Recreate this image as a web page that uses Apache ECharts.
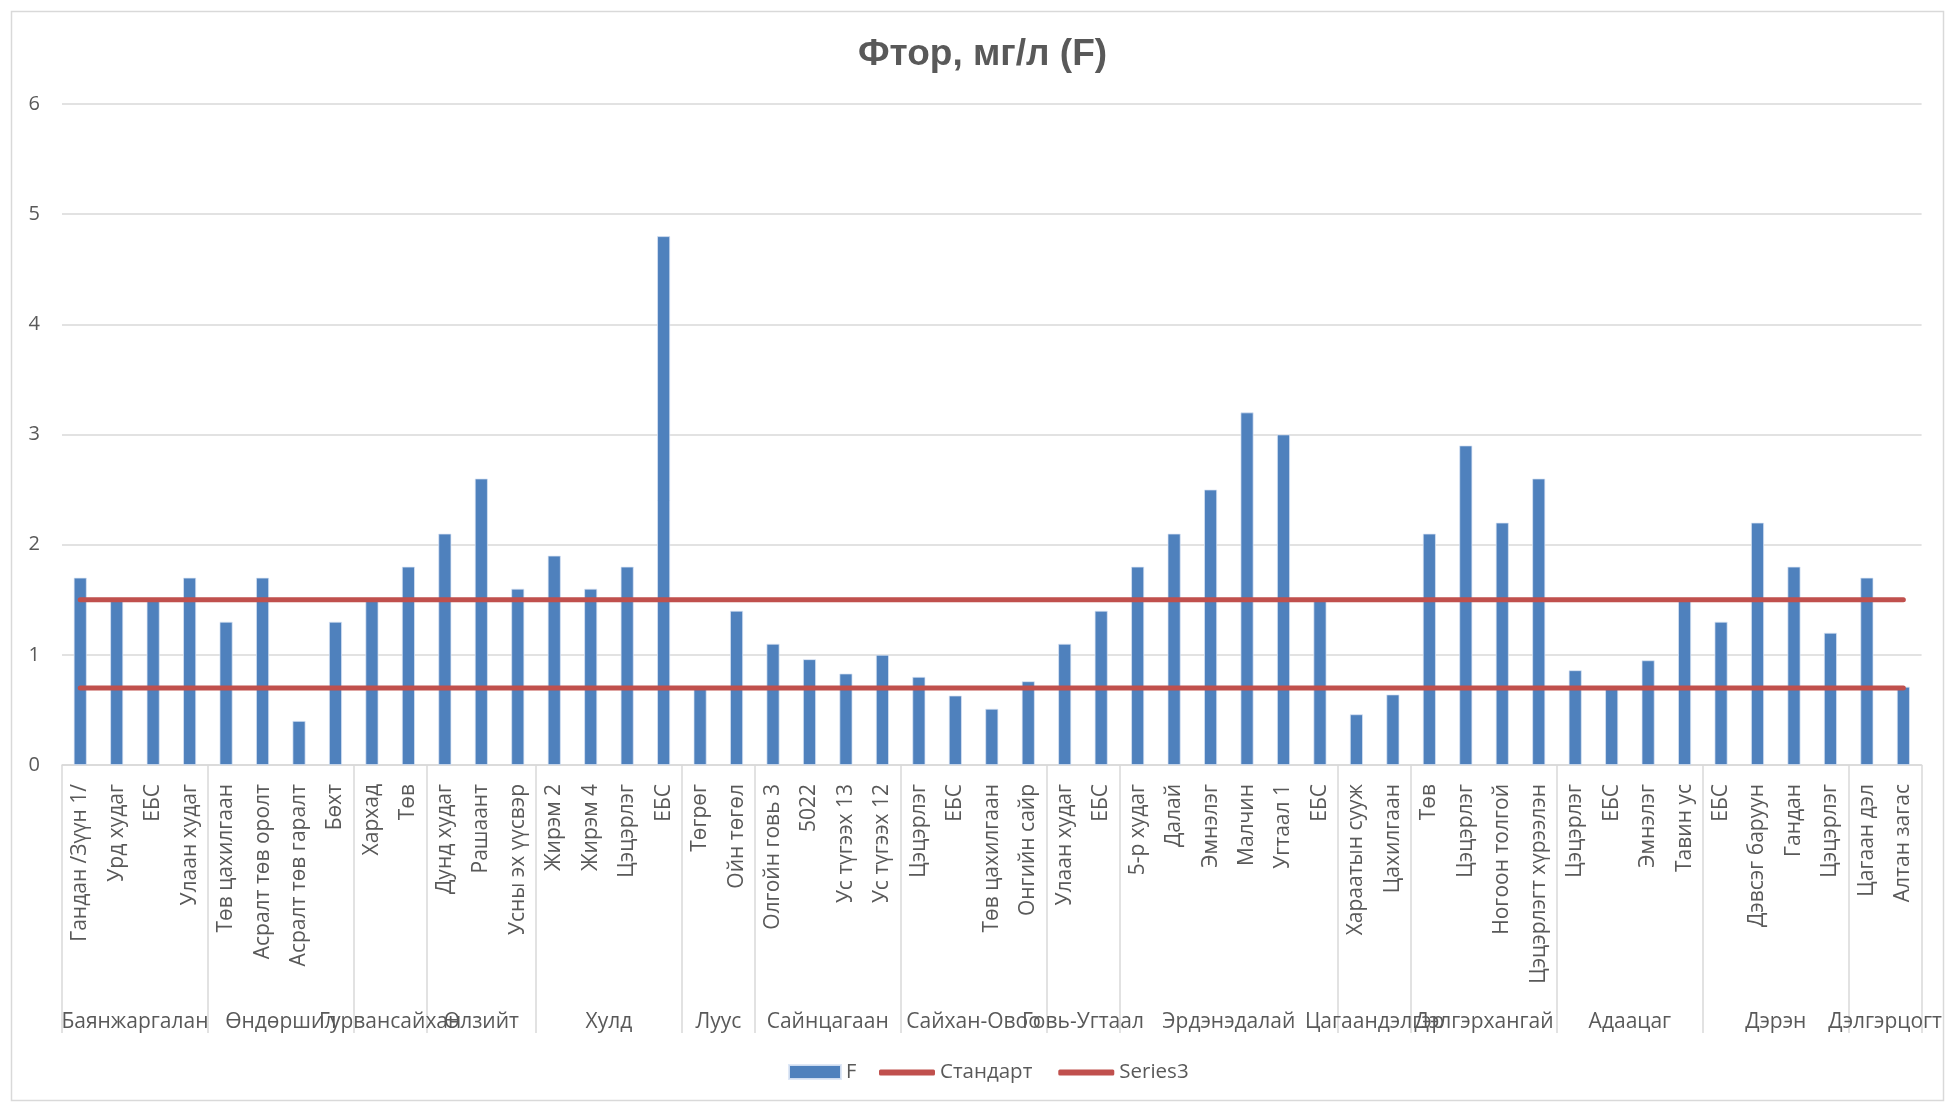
<!DOCTYPE html>
<html>
<head>
<meta charset="utf-8">
<script src="https://cdn.jsdelivr.net/npm/echarts@6/dist/echarts.min.js"></script>
<style>
html,body{margin:0;padding:0;background:#fff;}
#chart{width:1945px;height:1103px;}
</style>
</head>
<body>
<div id="chart"></div>
<script>
// ---- data ----
const categories = [
  'Гандан /Зүүн 1/','Урд худаг','ЕБС','Улаан худаг',
  'Төв цахилгаан','Асралт төв оролт','Асралт төв гаралт','Бөхт',
  'Хархад','Төв',
  'Дунд худаг','Рашаант','Усны эх үүсвэр',
  'Жирэм 2','Жирэм 4','Цэцэрлэг','ЕБС',
  'Төгрөг','Ойн төгөл',
  'Олгойн говь 3','5022','Ус түгээх 13','Ус түгээх 12',
  'Цэцэрлэг','ЕБС','Төв цахилгаан','Онгийн сайр',
  'Улаан худаг','ЕБС',
  '5-р худаг','Далай','Эмнэлэг','Малчин','Угтаал 1','ЕБС',
  'Хараатын сууж','Цахилгаан',
  'Төв','Цэцэрлэг','Ногоон толгой','Цэцэрлэгт хүрээлэн',
  'Цэцэрлэг','ЕБС','Эмнэлэг','Тавин ус',
  'ЕБС','Дэвсэг баруун','Гандан','Цэцэрлэг',
  'Цагаан дэл','Алтан загас'
];
const groupNames = ['Баянжаргалан','Өндөршил','Гурвансайхан','Өлзийт','Хулд','Луус','Сайнцагаан','Сайхан-Овоо','Говь-Угтаал','Эрдэнэдалай','Цагаандэлгэр','Дэлгэрхангай','Адаацаг','Дэрэн','Дэлгэрцогт'];
const groupSizes = [4,4,2,3,4,2,4,4,2,6,2,4,4,4,2];
const fValues = [
  1.7,1.5,1.5,1.7,
  1.3,1.7,0.4,1.3,
  1.5,1.8,
  2.1,2.6,1.6,
  1.9,1.6,1.8,4.8,
  0.7,1.4,
  1.1,0.96,0.83,1.0,
  0.8,0.63,0.51,0.76,
  1.1,1.4,
  1.8,2.1,2.5,3.2,3.0,1.5,
  0.46,0.64,
  2.1,2.9,2.2,2.6,
  0.86,0.7,0.95,1.5,
  1.3,2.2,1.8,1.2,
  1.7,0.71
];
const standardValues = categories.map(() => 1.5);
const series3Values = categories.map(() => 0.7);
const yTicks = [0,1,2,3,4,5,6];

// ---- derived group geometry (in category units) ----
const boundaries = [0];
groupSizes.forEach(s => boundaries.push(boundaries[boundaries.length-1] + s));
const centers = [];
const centerName = {};
groupSizes.forEach((s,i) => {
  const c = boundaries[i] + s/2;
  centers.push(c);
  centerName[c.toFixed(2)] = groupNames[i];
});

const txt = '#595959';
const grey = '#D9D9D9';
const red = '#C0504D';
const font = 'Open Sans';
const chart = echarts.init(document.getElementById('chart'), null, {renderer:'canvas'});
chart.setOption({
  animation: false,
  backgroundColor: '#fff',
  graphic: [{
    type: 'rect', left: 9, top: 9, z: -10,
    shape: {width: 1932, height: 1089},
    style: {fill: 'none', stroke: grey, lineWidth: 1.5}
  }],
  title: {
    text: 'Фтор, мг/л (F)',
    left: 853, top: 31,
    textStyle: {fontFamily: 'Liberation Sans, Arial', fontWeight: 'bold', fontSize: 37, color: txt}
  },
  legend: [{
    top: 1062, left: 788, padding: 0,
    itemWidth: 52, itemHeight: 14,
    textStyle: {fontFamily: font, fontSize: 20, color: txt},
    data: [{name: 'F', icon: 'rect'}]
  }, {
    top: 1062, left: 879, padding: 0,
    itemWidth: 56, itemHeight: 6, itemGap: 26,
    textStyle: {fontFamily: font, fontSize: 20.5, color: txt},
    data: [{name: 'Стандарт', icon: 'roundRect'}, {name: 'Series3', icon: 'roundRect'}]
  }],
  grid: {left: 62, right: 19, top: 104, bottom: 338, containLabel: false},
  xAxis: [{
    type: 'category',
    data: categories,
    boundaryGap: true,
    axisLine: {show: true, lineStyle: {color: grey, width: 1.5}},
    axisTick: {show: false},
    axisLabel: {
      interval: 0, rotate: 90, margin: 19,
      fontFamily: font, fontSize: 21, color: txt
    },
    splitLine: {show: false}
  }, {
    type: 'value',
    min: 0, max: categories.length,
    position: 'bottom',
    axisLine: {show: false},
    splitLine: {show: false},
    axisTick: {
      show: true, inside: false, length: 268,
      customValues: boundaries,
      lineStyle: {color: grey, width: 1.5}
    },
    axisLabel: {
      show: true, margin: 247,
      customValues: centers,
      formatter: v => centerName[Number(v).toFixed(2)] || '',
      fontFamily: font, fontSize: 21, color: txt
    }
  }],
  yAxis: {
    type: 'value', min: 0, max: 6, interval: 1,
    axisLine: {show: false},
    axisTick: {show: false},
    axisLabel: {
      margin: 22, fontFamily: font, fontSize: 20, color: txt,
      formatter: v => yTicks.includes(v) ? String(v) : ''
    },
    splitLine: {lineStyle: {color: grey, width: 1.5}}
  },
  series: [{
    name: 'F', type: 'bar', xAxisIndex: 0,
    data: fValues, barWidth: 13,
    itemStyle: {color: '#4F81BD', borderColor: 'rgba(220,230,245,0.9)', borderWidth: 0.8}
  }, {
    name: 'Стандарт', type: 'line', xAxisIndex: 0,
    data: standardValues, symbol: 'none', showSymbol: false,
    lineStyle: {color: red, width: 5, cap: 'round'},
    itemStyle: {color: red}
  }, {
    name: 'Series3', type: 'line', xAxisIndex: 0,
    data: series3Values, symbol: 'none', showSymbol: false,
    lineStyle: {color: red, width: 5, cap: 'round'},
    itemStyle: {color: red}
  }]
});
</script>
</body>
</html>
